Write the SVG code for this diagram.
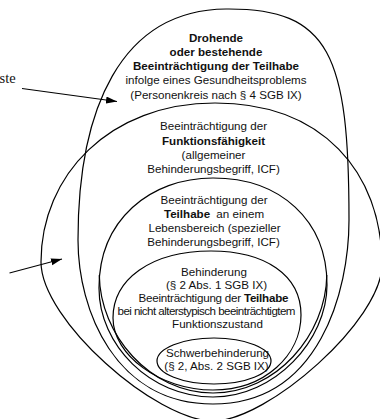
<svg xmlns="http://www.w3.org/2000/svg" width="380" height="419" viewBox="0 0 380 419">
<style>
.sh{fill:none;stroke:#000;stroke-width:1.2}
.t{font-family:"Liberation Sans",Arial,sans-serif;font-size:11.6px;fill:#111;text-anchor:middle}
.b{font-weight:bold}
.ar{stroke:#000;stroke-width:1.1;fill:none}
</style>
<defs>
<marker id="ah" markerUnits="userSpaceOnUse" markerWidth="12" markerHeight="8" refX="11" refY="3.5" orient="auto">
<path d="M0,0 L11,3.5 L0,7 Z" fill="#000"/>
</marker>
</defs>
<rect width="380" height="419" fill="#fff"/>
<g id="drohende">
<path class="sh" d="M226,9 C330,8 349,55 349,220 C349,290 320,404 213,404 C115,404 78,310 78,240 C78,110 120,10 226,9 Z"/>
<text class="t b" x="216" y="41.5">Drohende</text>
<text class="t b" x="216" y="56">oder bestehende</text>
<text class="t b" x="216" y="70">Beeinträchtigung der Teilhabe</text>
<text class="t" x="216" y="84">infolge eines Gesundheitsproblems</text>
<text class="t" x="216" y="98.5">(Personenkreis nach § 4 SGB IX)</text>
</g>
<g id="funktion">
<path class="sh" d="M215,103 C322,103 382,172 382,265 C382,320 268,421 213,421 C156,421 41,320 41,262 C41,175 110,103 215,103 Z"/>
<text class="t" x="213.5" y="130">Beeinträchtigung der</text>
<text class="t b" x="213.5" y="144.5">Funktionsfähigkeit</text>
<text class="t" x="213.5" y="159">(allgemeiner</text>
<text class="t" x="213.5" y="173">Behinderungsbegriff, ICF)</text>
</g>
<g id="teilhabe">
<path class="sh" d="M213,178 C280,178 327,220 327,285 C327,340 275,397 213,397 C150,397 99,345 99,288 C99,220 150,178 213,178 Z"/>
<path class="sh" d="M99.3,275 C100,335 150,393 213,393 C276,393 326,335 326.8,275"/>
<text class="t" x="214" y="204">Beeinträchtigung der</text>
<text class="t" x="214" y="218"><tspan class="b">Teilhabe</tspan><tspan dx="3"> an einem</tspan></text>
<text class="t" x="214.5" y="232">Lebensbereich (spezieller</text>
<text class="t" x="213.5" y="246">Behinderungsbegriff, ICF)</text>
</g>
<g id="behinderung">
<path class="sh" d="M211,251 C265,251 301,275 301,315 C301,355 265,390 213,390 C160,390 113,355 113,318 C113,280 150,251 211,251 Z"/>
<text class="t" x="214" y="276">Behinderung</text>
<text class="t" x="216.5" y="289">(§ 2 Abs. 1 SGB IX)</text>
<text class="t" x="213.5" y="302" textLength="150">Beeinträchtigung der <tspan class="b">Teilhabe</tspan></text>
<text class="t" x="206.5" y="315" textLength="178">bei nicht alterstypisch beeinträchtigtem</text>
<text class="t" x="217.5" y="328">Funktionszustand</text>
</g>
<g id="schwer">
<ellipse class="sh" cx="214" cy="361" rx="57" ry="23"/>
<text class="t" x="217.5" y="357">Schwerbehinderung</text>
<text class="t" x="216.5" y="369.5">(§ 2, Abs. 2 SGB IX)</text>
</g>
<text x="-0.5" y="82.5" style="font-family:'Liberation Serif','Times New Roman',serif;font-size:14.5px;fill:#111">ste</text>
<g id="connectors">
<line class="ar" x1="22" y1="88.5" x2="117" y2="101.5" marker-end="url(#ah)"/>
<line class="ar" x1="9.5" y1="273" x2="62" y2="259" marker-end="url(#ah)"/>
</g>
</svg>
